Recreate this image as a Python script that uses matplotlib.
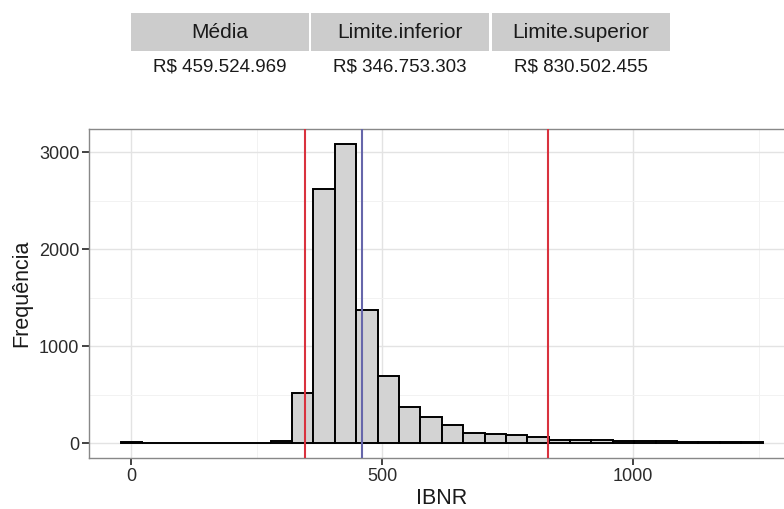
import numpy as np
import matplotlib
matplotlib.use("Agg")
import matplotlib.pyplot as plt
from matplotlib.patches import Rectangle

plt.rcParams['font.family'] = ['Liberation Sans', 'DejaVu Sans']

# tabela de resumo
col_names = ["Média", "Limite.inferior", "Limite.superior"]
col_values = ["R$ 459.524.969", "R$ 346.753.303", "R$ 830.502.455"]

# histograma (30 classes)
bin_start = -20.0
bin_width = 42.6
counts = [15, 4, 3, 3, 4, 5, 8, 28, 518, 2619, 3086, 1374, 691, 377, 268,
          186, 110, 100, 90, 62, 35, 33, 38, 25, 25, 25, 12, 10, 10, 10]

media = 459.524969
lim_inf = 346.753303
lim_sup = 830.502455

x_ticks = [0, 500, 1000]
y_ticks = [0, 1000, 2000, 3000]

fig = plt.figure(figsize=(7.84, 5.09), dpi=100)
fig.patch.set_facecolor("white")

# tabela no topo
W, H = 784.0, 509.0
cells_x = [131, 311, 492]
cell_w = 178
for i in range(3):
    fig.patches.append(Rectangle((cells_x[i] / W, 1 - 51 / H), cell_w / W, 38.5 / H,
                                 transform=fig.transFigure, facecolor="#cccccc",
                                 edgecolor="none"))
    cx = (cells_x[i] + cell_w / 2) / W
    fig.text(cx, 1 - 32 / H, col_names[i], ha="center", va="center",
             fontsize=15, color="#1a1a1a")
    fig.text(cx, 1 - 67 / H, col_values[i], ha="center", va="center",
             fontsize=13.5, color="#1a1a1a")

# grafico
ax = fig.add_axes([89 / W, 51 / H, 705.6 / W, 329 / H])
lefts = bin_start + bin_width * np.arange(len(counts))
ax.bar(lefts, counts, width=bin_width, align="edge", facecolor="#d3d3d3",
       edgecolor="black", linewidth=1.4, zorder=2)
ax.axvline(lim_inf, color="#d9323e", linewidth=1.5, zorder=3)
ax.axvline(lim_sup, color="#d9323e", linewidth=1.5, zorder=3)
ax.axvline(media, color="#6666aa", linewidth=1.5, zorder=3)

ax.set_xlim(-83.7, 1321.9)
ax.set_ylim(-151, 3237)
ax.set_xticks(x_ticks)
ax.set_yticks(y_ticks)
ax.set_xticks([250, 750, 1250], minor=True)
ax.set_yticks([500, 1500, 2500], minor=True)
ax.grid(which="major", color="#e3e3e3", linewidth=1.0, zorder=0)
ax.grid(which="minor", color="#f2f2f2", linewidth=0.7, zorder=0)
ax.set_axisbelow(True)
ax.tick_params(which="major", direction="out", length=5, width=1.2, color="#222222",
               labelsize=13, labelcolor="#2b2b2b", pad=2)
ax.tick_params(which="minor", length=0)
for s in ax.spines.values():
    s.set_color("#888888")
    s.set_linewidth(1.0)

ax.set_xlabel("IBNR", fontsize=15.5, color="#1a1a1a", labelpad=2)
ax.set_ylabel("Frequência", fontsize=15.5, color="#1a1a1a", labelpad=5)

fig.savefig("out.png", dpi=100)
